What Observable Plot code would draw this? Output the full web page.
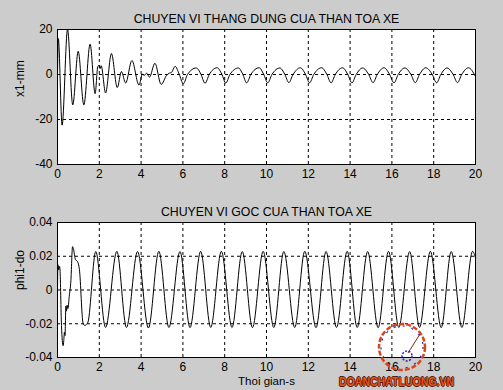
<!DOCTYPE html>
<html>
<head>
<meta charset="utf-8">
<script src="https://cdn.jsdelivr.net/npm/d3@7"></script>
<script src="https://cdn.jsdelivr.net/npm/@observablehq/plot@0.6"></script>
<style>
  html, body { margin: 0; padding: 0; background: #cccccc; }
  #wrap { position: relative; width: 503px; height: 390px; background: #cccccc; overflow: hidden; font-family: "Liberation Sans", Arial, sans-serif; }
  #wrap svg.plot { display: block; }
  #wm { position: absolute; left: 339px; top: 376px; font: bold 12.4px/12px "Liberation Sans", Arial, sans-serif; color: #e8541e;
        transform: scaleX(0.85); transform-origin: left top;
        text-shadow: 1px 0 0 #5a1a08, -1px 0 0 #5a1a08, 0 1px 0 #5a1a08, 0 -1px 0 #5a1a08; white-space: nowrap; }
  #logo { position: absolute; left: 374px; top: 320px; }
</style>
</head>
<body>
<div id="wrap"></div>
<script>
// ---------- data ----------
const xTicks = [0, 2, 4, 6, 8, 10, 12, 14, 16, 18, 20];
const topYTicks = [-40, -20, 0, 20];
const bottomYTicks = [-0.04, -0.02, 0, 0.02, 0.04];
const topTitle = "CHUYEN VI THANG DUNG CUA THAN TOA XE";
const bottomTitle = "CHUYEN VI GOC CUA THAN TOA XE";
const topYLabel = "x1-mm";
const bottomYLabel = "phi1-do";
const xLabel = "Thoi gian-s";

// vertical displacement x1 (mm)
const x1Time = [0, 0.04, 0.22, 0.48, 0.73, 0.99, 1.26, 1.56, 1.8, 1.93, 2.0, 2.04, 2.09, 2.3, 2.58, 2.86, 3.06, 3.26, 3.56, 3.9, 4.06, 4.15, 4.27, 4.4, 4.66, 4.96, 5.22, 5.35, 5.45, 5.63,
  5.82, 6.02, 6.22, 6.64, 6.86, 7.06, 7.26, 7.64, 7.86, 8.05, 8.25, 8.66, 8.86, 9.05, 9.25, 9.65, 9.86, 10.06,
  10.26, 10.64, 10.87, 11.07, 11.27, 11.62, 11.86, 12.06, 12.26, 12.64, 12.88, 13.09, 13.29, 13.64, 13.88, 14.09,
  14.29, 14.6, 14.88, 15.1, 15.3, 15.62, 15.88, 16.1, 16.3, 16.62, 16.9, 17.12, 17.32, 17.62, 17.92, 18.14,
  18.34, 18.64, 18.92, 19.14, 19.34, 19.66, 20];
const x1Value = [0, 16, -22.5, 20, -13.5, 10.3, -13.5, 13.5, -8.5, 3.6, 4.0, 2.6, 3.9, -8.2, 9.3, -5.8, 1.3, -3.8, 6.2, -4.7, 0.2, -0.4, 0.6, -1.2, 5.0, -4.4, -0.4, 0.6, 0.9, 3.6,
  0.2, -4.1, 0, 2.9, 0.2, -3.9, 0, 3.0, 0.2, -3.8, 0, 2.9, 0.2, -3.7, 0, 3.0, 0.2, -3.7,
  0, 2.9, 0.2, -3.6, 0, 3.0, 0.2, -3.7, 0, 3.0, 0.2, -3.7, 0, 3.0, 0.2, -3.7,
  0, 2.9, 0.2, -3.6, 0, 3.0, 0.2, -3.7, 0, 2.9, 0.2, -3.6, 0, 3.0, 0.2, -3.7,
  0, 2.9, 0.2, -3.6, 0, 3.0, -0.9];

// angular displacement phi1 (deg)
const phiTime = [0, 0.02, 0.06, 0.1, 0.12, 0.19, 0.27, 0.3, 0.33, 0.36, 0.4, 0.43, 0.46, 0.5, 0.56, 0.64, 0.72, 0.76, 0.86, 0.95, 1.05, 1.22, 1.3, 1.38, 1.46,
  1.83, 2.3, 2.84, 3.3, 3.83, 4.35, 4.85, 5.33, 5.86, 6.34, 6.85, 7.33, 7.84, 8.35, 8.84, 9.33, 9.84, 10.35, 10.83,
  11.35, 11.83, 12.37, 12.85, 13.35, 13.86, 14.34, 14.84, 15.34, 15.84, 16.33, 16.85, 17.32, 17.84, 18.36, 18.84, 19.35, 19.86, 20];
const phiValue = [0, 0.015, 0.012, 0.014, 0.012, -0.021, -0.033, -0.030, -0.025, -0.027, -0.0095, -0.0125, -0.009, -0.011, -0.004, 0.0054, 0.0257, 0.0245, 0.018, 0.017, 0.012, -0.0195, -0.021, -0.0205, -0.019,
  0.0228, -0.0222, 0.0229, -0.0222, 0.0228, -0.0225, 0.0229, -0.0222, 0.0228, -0.0223, 0.0229, -0.0222, 0.0229, -0.0222, 0.0228,
  -0.0223, 0.0229, -0.0222, 0.0228, -0.0222, 0.0229, -0.0223, 0.0228, -0.0222, 0.0229, -0.0222, 0.0228, -0.0223, 0.0229, -0.0222,
  0.0228, -0.0222, 0.0229, -0.0223, 0.0228, -0.0222, 0.0229, 0.019];

const watermark = "DOANCHATLUONG.VN";

// ---------- drawing ----------
const FONT = "'Liberation Sans', Arial, sans-serif";
const W = 503, H = 195;
const gridX = xTicks.filter(d => d > 0 && d < 20);

function panel({times, values, yDomain, yTicks, title, yLabel, xLab, mTop, mBottom}) {
  const rows = times.map((t, i) => ({t, v: values[i]}));
  const gridY = yTicks.filter(d => d > yDomain[0] && d < yDomain[1]);
  const marks = [
    Plot.frame({fill: "white", stroke: null}),
    Plot.ruleX(gridX, {stroke: "black", strokeWidth: 1, strokeDasharray: "3,3"}),
    Plot.ruleY(gridY, {stroke: "black", strokeWidth: 1, strokeDasharray: "3,3"}),
    Plot.line(rows, {x: "t", y: "v", curve: "monotone-x", stroke: "black", strokeWidth: 1, clip: true}),
    Plot.frame({stroke: "black", strokeWidth: 1}),
    Plot.axisX({ticks: xTicks, tickSize: 0, tickPadding: 5, tickFormat: d => String(d), label: null, fontSize: 12, fill: "black"}),
    Plot.axisY({ticks: yTicks, tickSize: 0, tickPadding: 5, tickFormat: d => String(d), label: null, fontSize: 12, fill: "black"}),
    Plot.text([title], {frameAnchor: "top", dy: -15, fontSize: 12.3, fill: "black", text: d => d}),
    Plot.text([yLabel], {frameAnchor: "left", dx: -37, rotate: -90, fontSize: 12, fill: "black", text: d => d})
  ];
  if (xLab) marks.push(Plot.text([xLab], {frameAnchor: "bottom", dy: 27, fontSize: 11.5, fill: "black", text: d => d}));
  return Plot.plot({
    width: W, height: H,
    marginLeft: 57, marginRight: 28, marginTop: mTop, marginBottom: mBottom,
    x: {domain: [0, 20], axis: null},
    y: {domain: yDomain, axis: null},
    style: {background: "transparent", fontFamily: FONT, fontSize: "12px", color: "black"},
    marks
  });
}

const wrap = document.getElementById("wrap");
wrap.appendChild(panel({times: x1Time, values: x1Value, yDomain: [-40, 20], yTicks: topYTicks, title: topTitle, yLabel: topYLabel, xLab: null, mTop: 29, mBottom: 31}));
wrap.appendChild(panel({times: phiTime, values: phiValue, yDomain: [-0.04, 0.04], yTicks: bottomYTicks, title: bottomTitle, yLabel: bottomYLabel, xLab: xLabel, mTop: 27, mBottom: 33}));

// watermark logo + text
const ns = "http://www.w3.org/2000/svg";
const logo = document.createElementNS(ns, "svg");
logo.setAttribute("id", "logo"); logo.setAttribute("width", 58); logo.setAttribute("height", 56);
logo.innerHTML = '<circle cx="28" cy="27" r="23" fill="none" stroke="#d8461a" stroke-width="2.5" stroke-dasharray="5,2"/>' +
  '<circle cx="28" cy="27" r="21" fill="none" stroke="#2a20c8" stroke-width="1.2" stroke-dasharray="2,7"/>' +
  '<circle cx="33" cy="36" r="5" fill="none" stroke="#2a20c8" stroke-width="1.5" stroke-dasharray="2,1.5"/>' +
  '<line x1="34" y1="33" x2="46" y2="14" stroke="#7a2a10" stroke-width="1"/>';
wrap.appendChild(logo);
const wm = document.createElement("div");
wm.id = "wm"; wm.textContent = watermark;
wrap.appendChild(wm);
</script>
</body>
</html>
